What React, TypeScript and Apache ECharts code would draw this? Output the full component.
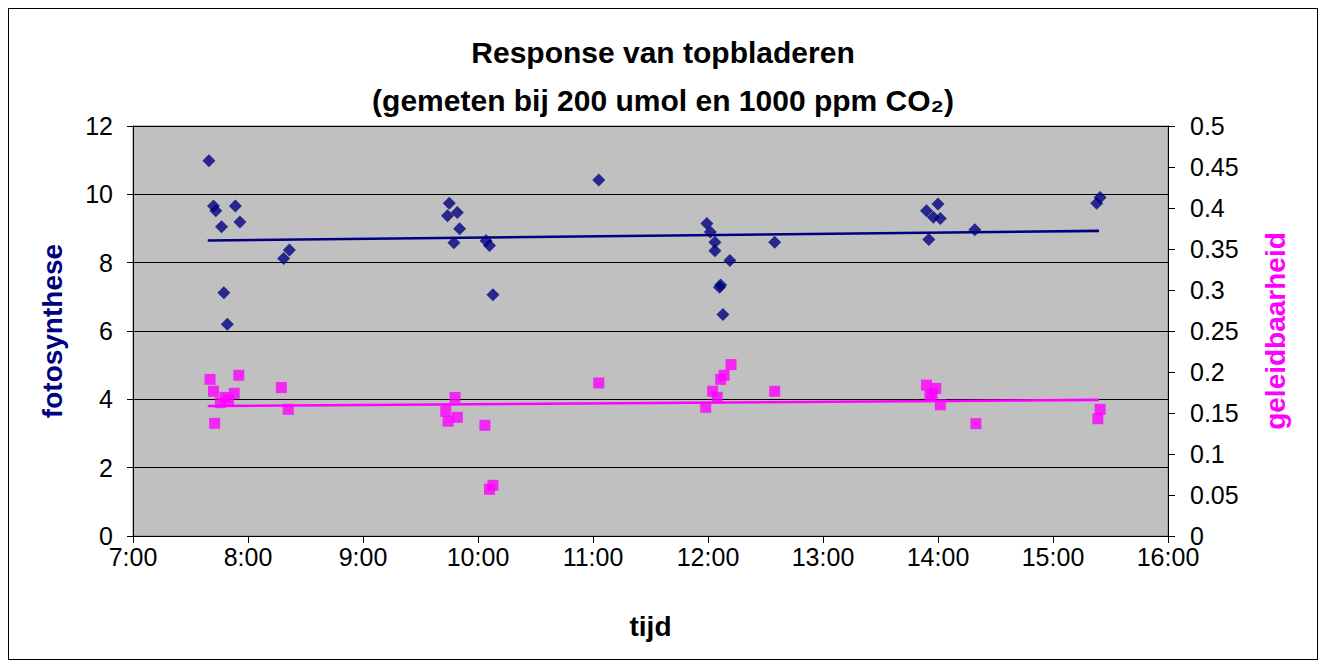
import React, { useEffect, useRef } from "react";
import * as echarts from "echarts";

// Measurement times (decimal hours) and photosynthesis readings
const fotoTimes = [
  7.66, 7.70, 7.72, 7.89, 7.93, 7.77, 8.36, 8.31, 7.79, 7.82,
  9.75, 9.82, 9.735, 9.84, 9.79, 10.07, 10.10, 10.13,
  11.05,
  11.99, 12.02, 12.06, 12.06, 12.19, 12.10, 12.11, 12.13, 12.58,
  14.0, 13.9, 13.96, 14.02, 13.92, 14.32,
  15.41, 15.38,
];
const fotoValues = [
  10.98, 9.66, 9.52, 9.66, 9.19, 9.05, 8.37, 8.12, 7.12, 6.2,
  9.74, 9.47, 9.37, 8.99, 8.58, 8.64, 8.5, 7.06,
  10.42,
  9.15, 8.9, 8.6, 8.35, 8.06, 7.28, 7.35, 6.48, 8.6,
  9.72, 9.52, 9.33, 9.29, 8.68, 8.96,
  9.91, 9.74,
];

// Measurement times and stomatal conductance readings
const geleidTimes = [
  7.67, 7.70, 7.92, 7.88, 7.76, 7.83, 7.80, 8.29, 8.35, 7.71,
  9.80, 9.72, 9.82, 9.74, 10.06, 10.13, 10.10,
  11.05,
  12.20, 12.14, 12.11, 12.04, 12.08, 11.98, 12.58,
  13.90, 13.98, 13.95, 13.93, 14.02, 14.33,
  15.41, 15.39,
];
const geleidValues = [
  0.191, 0.1765, 0.196, 0.174, 0.1626, 0.166, 0.169, 0.181, 0.1545, 0.1374,
  0.169, 0.152, 0.1447, 0.14, 0.135, 0.0618, 0.057,
  0.1866,
  0.209, 0.196, 0.191, 0.1765, 0.169, 0.157, 0.1765,
  0.184, 0.18, 0.174, 0.171, 0.16, 0.137,
  0.1545, 0.143,
];

// Linear trend lines (start / end)
const fotoTrendTimes = [7.65, 15.4];
const fotoTrendValues = [8.65, 8.93];
const geleidTrendTimes = [7.65, 15.4];
const geleidTrendValues = [0.1585, 0.166];

const xTicks = [7, 8, 9, 10, 11, 12, 13, 14, 15, 16];

const NAVY = "#000080";
const PINK = "#FF00FF";
const FONT = "'Liberation Sans', Arial, sans-serif";

const pairs = (xs: number[], ys: number[]) => xs.map((x, i) => [x, ys[i]]);

export default function App() {
  const ref = useRef<HTMLDivElement>(null);

  useEffect(() => {
    if (!ref.current) return;
    const chart = echarts.init(ref.current, null, { renderer: "svg" });
    chart.setOption({
      animation: false,
      backgroundColor: "#ffffff",
      textStyle: { fontFamily: FONT },
      title: {
        text: "Response van topbladeren\n(gemeten bij 200 umol en 1000 ppm CO₂)",
        left: "center",
        top: 19,
        padding: 0,
        textStyle: {
          fontFamily: FONT,
          fontSize: 30,
          fontWeight: "bold",
          color: "#000",
          lineHeight: 48,
        },
      },
      grid: {
        left: 124,
        right: 149,
        top: 117,
        bottom: 123,
        show: true,
        backgroundColor: "#C0C0C0",
        borderColor: "#808080",
        borderWidth: 1,
      },
      xAxis: {
        type: "value",
        min: xTicks[0],
        max: xTicks[xTicks.length - 1],
        interval: 1,
        name: "tijd",
        nameLocation: "middle",
        nameGap: 76,
        nameTextStyle: { fontFamily: FONT, fontSize: 28, fontWeight: "bold", color: "#000" },
        axisLine: { show: true, lineStyle: { color: "#000", width: 1 } },
        axisTick: { show: true, length: 7, lineStyle: { color: "#000" } },
        axisLabel: {
          fontFamily: FONT,
          fontSize: 25,
          lineHeight: 18,
          color: "#000",
          margin: 12,
          formatter: (v: number) => `${v}:00`,
        },
        splitLine: { show: false },
      },
      yAxis: [
        {
          type: "value",
          min: 0,
          max: 12,
          interval: 2,
          name: "fotosynthese",
          nameLocation: "middle",
          nameRotate: 90,
          nameGap: 67,
          nameTextStyle: { fontFamily: FONT, fontSize: 28, fontWeight: "bold", color: NAVY },
          axisLine: { show: true, lineStyle: { color: "#000", width: 1 } },
          axisTick: { show: true, length: 6, lineStyle: { color: "#000" } },
          axisLabel: { fontFamily: FONT, fontSize: 25, lineHeight: 16, color: "#000", margin: 20 },
          splitLine: { show: true, lineStyle: { color: "#000", width: 1 } },
        },
        {
          type: "value",
          min: 0,
          max: 0.5,
          interval: 0.05,
          name: "geleidbaarheid",
          nameLocation: "middle",
          nameRotate: 90,
          nameGap: 93,
          nameTextStyle: { fontFamily: FONT, fontSize: 28, fontWeight: "bold", color: PINK },
          axisLine: { show: true, lineStyle: { color: "#000", width: 1 } },
          axisTick: { show: true, length: 7, lineStyle: { color: "#000" } },
          axisLabel: {
            fontFamily: FONT,
            fontSize: 25,
            lineHeight: 16,
            color: "#000",
            margin: 22,
            formatter: (v: number) => String(parseFloat(v.toFixed(2))),
          },
          splitLine: { show: false },
        },
      ],
      series: [
        {
          type: "line",
          yAxisIndex: 0,
          data: pairs(fotoTrendTimes, fotoTrendValues),
          showSymbol: false,
          lineStyle: { color: NAVY, width: 2.6 },
          z: 2,
        },
        {
          type: "line",
          yAxisIndex: 1,
          data: pairs(geleidTrendTimes, geleidTrendValues),
          showSymbol: false,
          lineStyle: { color: PINK, width: 2.6 },
          z: 2,
        },
        {
          type: "scatter",
          yAxisIndex: 0,
          data: pairs(fotoTimes, fotoValues),
          symbol: "diamond",
          symbolSize: 13,
          itemStyle: { color: NAVY },
          z: 3,
        },
        {
          type: "scatter",
          yAxisIndex: 1,
          data: pairs(geleidTimes, geleidValues),
          symbol: "rect",
          symbolSize: 11,
          itemStyle: { color: PINK },
          z: 3,
        },
      ],
    });
    return () => chart.dispose();
  }, []);

  return (
    <div style={{ width: 1308, height: 650, border: "1px solid #000" }}>
      <div ref={ref} style={{ width: 1308, height: 650 }} />
    </div>
  );
}
